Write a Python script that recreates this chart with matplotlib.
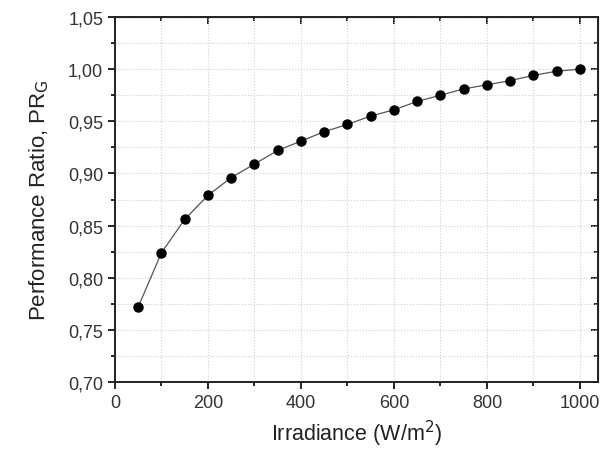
import matplotlib.pyplot as plt
from matplotlib.ticker import MultipleLocator, FuncFormatter

irradiance = [50, 100, 150, 200, 250, 300, 350, 400, 450, 500,
              550, 600, 650, 700, 750, 800, 850, 900, 950, 1000]
pr_g = [0.772, 0.824, 0.856, 0.879, 0.896, 0.909, 0.922, 0.931, 0.940, 0.947,
        0.955, 0.961, 0.969, 0.975, 0.981, 0.985, 0.989, 0.994, 0.998, 1.000]

plt.rcParams['font.family'] = ['Liberation Sans', 'DejaVu Sans']

fig = plt.figure(figsize=(6, 4.52), dpi=100)
ax = fig.add_axes([115/600, 1-383/452, 483/600, 365/452])

ax.plot(irradiance, pr_g, color='#555555', lw=0.9, marker='o',
        markersize=6.5, markerfacecolor='black', markeredgecolor='black')

ax.set_xlim(0, 1039)
ax.set_ylim(0.70, 1.05)
ax.xaxis.set_major_locator(MultipleLocator(200))
ax.xaxis.set_minor_locator(MultipleLocator(100))
ax.yaxis.set_major_locator(MultipleLocator(0.05))
ax.yaxis.set_minor_locator(MultipleLocator(0.025))
ax.yaxis.set_major_formatter(FuncFormatter(lambda v, p: '{:.2f}'.format(v).replace('.', ',')))

ax.grid(which='both', color='#cfcfcf', linestyle=':', linewidth=0.8)
ax.tick_params(which='both', direction='out', labelsize=13, width=1.2,
               labelcolor='#333333')
ax.tick_params(which='major', length=5)
ax.tick_params(which='minor', length=3)
for s in ax.spines.values():
    s.set_linewidth(1.4)
    s.set_color('#222222')

# inward ticks on top and right, like the original
ax2 = ax.secondary_xaxis('top')
ax2.xaxis.set_major_locator(MultipleLocator(200))
ax2.xaxis.set_minor_locator(MultipleLocator(100))
ax2.tick_params(which='both', direction='in', labeltop=False, width=1.2)
ax2.tick_params(which='major', length=5)
ax2.tick_params(which='minor', length=3)
ay2 = ax.secondary_yaxis('right')
ay2.yaxis.set_major_locator(MultipleLocator(0.05))
ay2.yaxis.set_minor_locator(MultipleLocator(0.025))
ay2.tick_params(which='both', direction='in', labelright=False, width=1.2)
ay2.tick_params(which='major', length=5)
ay2.tick_params(which='minor', length=3)

ax.set_xlabel('Irradiance (W/m$^2$)', fontsize=15.5, labelpad=5, color='#222222')
ax.set_ylabel('Performance Ratio, PR$_\\mathrm{G}$', fontsize=16, labelpad=12,
              color='#222222')

fig.savefig('out.png', dpi=100)
